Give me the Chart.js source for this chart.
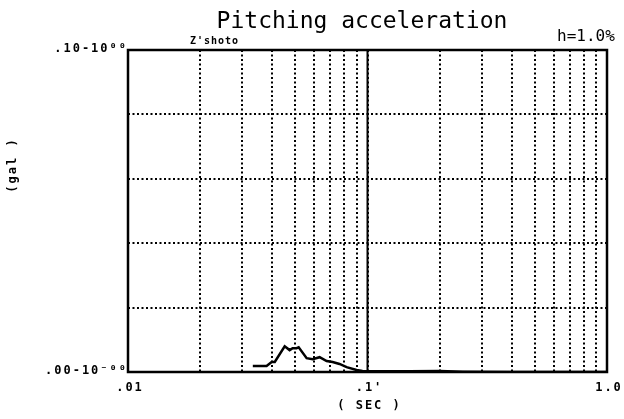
<!DOCTYPE html>
<html>
<head>
<meta charset="utf-8">
<script src="https://cdn.jsdelivr.net/npm/chart.js@4/dist/chart.umd.min.js"></script>
<style>
  html, body { margin: 0; padding: 0; background: #fff; }
  #wrap { width: 624px; height: 419px; }
</style>
</head>
<body>
<div id="wrap"><canvas id="chart" width="624" height="419"></canvas></div>
<script>
// response spectrum (period in sec, value in gal)
var periods = [0.0332, 0.0379, 0.0398, 0.0410, 0.0451, 0.0473, 0.0487, 0.0506, 0.0516,
               0.0557, 0.0590, 0.0631, 0.0675, 0.0715, 0.0764, 0.0818, 0.0900, 0.0953,
               0.100, 0.120, 0.150, 0.200, 0.250, 0.400, 0.700, 1.000];
var accel   = [0.0019, 0.0019, 0.0031, 0.0031, 0.0080, 0.0068, 0.0074, 0.0074, 0.0077,
               0.0043, 0.0040, 0.0046, 0.0034, 0.0031, 0.0025, 0.0015, 0.0006, 0.0003,
               0.0002, 0.0002, 0.0002, 0.0003, 0.0001, 0.0000, 0.0000, 0.0000];

var xGrid = [0.01, 0.02, 0.03, 0.04, 0.05, 0.06, 0.07, 0.08, 0.09,
             0.1, 0.2, 0.3, 0.4, 0.5, 0.6, 0.7, 0.8, 0.9, 1.0];
var xLabels = { "0.01": ".01", "0.1": ".1'", "1": "1.0" };
var yGrid = [0, 0.02, 0.04, 0.06, 0.08, 0.1];
var yLabels = { "0": ".00-10\u207B\u2070\u2070", "0.1": ".10-10\u2070\u2070" };

var titleText = "Pitching acceleration";
var dampText = "h=1.0%";
var tagText = "Z'shoto";
var xTitle = "( SEC )";
var yTitle = "(gal )";

var points = periods.map(function(p, i) { return { x: p, y: accel[i] }; });

var dotFont = "bold 12px 'DejaVu Sans Mono', monospace";

var decor = {
  id: "decor",
  afterDatasetsDraw: function(chart) {
    var ctx = chart.ctx, a = chart.chartArea;
    var xs = chart.scales.x, ys = chart.scales.y;
    ctx.save();
    // solid line at 0.1 sec
    var x1 = xs.getPixelForValue(0.1);
    ctx.strokeStyle = "#000";
    ctx.lineWidth = 2;
    ctx.beginPath();
    ctx.moveTo(x1, a.top);
    ctx.lineTo(x1, a.bottom);
    ctx.stroke();
    // frame
    ctx.lineWidth = 2.5;
    ctx.strokeRect(a.left, a.top, a.right - a.left, a.bottom - a.top);

    ctx.fillStyle = "#000";
    ctx.font = dotFont;
    ctx.letterSpacing = "2px";
    ctx.textBaseline = "alphabetic";
    // x tick labels
    ctx.textAlign = "center";
    Object.keys(xLabels).forEach(function(k) {
      ctx.fillText(xLabels[k], xs.getPixelForValue(parseFloat(k)) + 2, a.bottom + 19);
    });
    ctx.fillText(xTitle, (a.left + a.right) / 2 + 2, a.bottom + 37);
    // y tick labels
    ctx.textAlign = "right";
    Object.keys(yLabels).forEach(function(k) {
      ctx.fillText(yLabels[k], a.left, ys.getPixelForValue(parseFloat(k)) + 2);
    });
    // y title rotated
    ctx.save();
    ctx.translate(16, 165);
    ctx.rotate(-Math.PI / 2);
    ctx.textAlign = "center";
    ctx.fillText(yTitle, 0, 0);
    ctx.restore();
    // small tag
    ctx.textAlign = "left";
    ctx.letterSpacing = "1px";
    ctx.font = "bold 10px 'DejaVu Sans Mono', monospace";
    ctx.fillText(tagText, 190, 44);
    ctx.letterSpacing = "0px";
    // title and damping
    ctx.font = "23px 'DejaVu Sans Mono', monospace";
    ctx.textAlign = "center";
    ctx.fillText(titleText, 362, 28);
    ctx.font = "16px 'DejaVu Sans Mono', monospace";
    ctx.textAlign = "left";
    ctx.fillText(dampText, 557, 41);
    ctx.restore();
  }
};

new Chart(document.getElementById("chart"), {
  type: "line",
  data: {
    datasets: [{
      data: points,
      borderColor: "#000",
      borderWidth: 2.5,
      pointRadius: 0,
      tension: 0,
      fill: false
    }]
  },
  options: {
    responsive: false,
    animation: false,
    layout: { padding: { left: 128, right: 17, top: 50, bottom: 47 } },
    plugins: { legend: { display: false }, tooltip: { enabled: false } },
    scales: {
      x: {
        type: "logarithmic",
        min: 0.01,
        max: 1,
        afterBuildTicks: function(scale) {
          scale.ticks = xGrid.map(function(v) { return { value: v }; });
        },
        ticks: { display: false },
        grid: { color: "#000", lineWidth: 2, drawTicks: false },
        border: { display: false, dash: [2, 2.5] }
      },
      y: {
        min: 0,
        max: 0.1,
        afterBuildTicks: function(scale) {
          scale.ticks = yGrid.map(function(v) { return { value: v }; });
        },
        ticks: { display: false },
        grid: { color: "#000", lineWidth: 2, drawTicks: false },
        border: { display: false, dash: [2, 2.5] }
      }
    }
  },
  plugins: [decor]
});
</script>
</body>
</html>
